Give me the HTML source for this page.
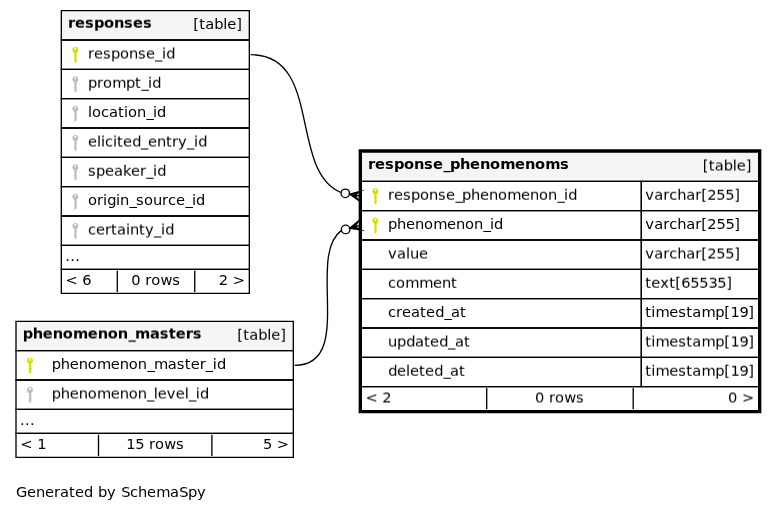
<!DOCTYPE html>
<html><head><meta charset="utf-8"><title>response_phenomenoms</title>
<style>
html,body{margin:0;padding:0;background:#fff;}
svg{display:block;}
text{font-family:"DejaVu Sans","Liberation Sans",sans-serif;font-size:14.667px;fill:#000;}
</style></head><body>
<svg width="777" height="512" viewBox="0 0 777 512">
<rect width="777" height="512" fill="#fff"/>
<polygon points="361.33,181.33 361.33,152.0 758.67,152.0 758.67,181.33 361.33,181.33" fill="#f5f5f5"/>
<polygon points="361.33,181.33 361.33,152.0 758.67,152.0 758.67,181.33 361.33,181.33" fill="none" stroke="#000" stroke-width="1.33"/>
<polygon points="361.33,210.67 361.33,181.33 641.33,181.33 641.33,210.67 361.33,210.67" fill="none" stroke="#000" stroke-width="1.33"/>
<polygon points="641.33,210.67 641.33,181.33 758.67,181.33 758.67,210.67 641.33,210.67" fill="none" stroke="#000" stroke-width="1.33"/>
<polygon points="361.33,240.0 361.33,210.67 641.33,210.67 641.33,240.0 361.33,240.0" fill="none" stroke="#000" stroke-width="1.33"/>
<polygon points="641.33,240.0 641.33,210.67 758.67,210.67 758.67,240.0 641.33,240.0" fill="none" stroke="#000" stroke-width="1.33"/>
<polygon points="361.33,269.33 361.33,240.0 641.33,240.0 641.33,269.33 361.33,269.33" fill="none" stroke="#000" stroke-width="1.33"/>
<polygon points="641.33,269.33 641.33,240.0 758.67,240.0 758.67,269.33 641.33,269.33" fill="none" stroke="#000" stroke-width="1.33"/>
<polygon points="361.33,298.67 361.33,269.33 641.33,269.33 641.33,298.67 361.33,298.67" fill="none" stroke="#000" stroke-width="1.33"/>
<polygon points="641.33,298.67 641.33,269.33 758.67,269.33 758.67,298.67 641.33,298.67" fill="none" stroke="#000" stroke-width="1.33"/>
<polygon points="361.33,328.0 361.33,298.67 641.33,298.67 641.33,328.0 361.33,328.0" fill="none" stroke="#000" stroke-width="1.33"/>
<polygon points="641.33,328.0 641.33,298.67 758.67,298.67 758.67,328.0 641.33,328.0" fill="none" stroke="#000" stroke-width="1.33"/>
<polygon points="361.33,357.33 361.33,328.0 641.33,328.0 641.33,357.33 361.33,357.33" fill="none" stroke="#000" stroke-width="1.33"/>
<polygon points="641.33,357.33 641.33,328.0 758.67,328.0 758.67,357.33 641.33,357.33" fill="none" stroke="#000" stroke-width="1.33"/>
<polygon points="361.33,386.67 361.33,357.33 641.33,357.33 641.33,386.67 361.33,386.67" fill="none" stroke="#000" stroke-width="1.33"/>
<polygon points="641.33,386.67 641.33,357.33 758.67,357.33 758.67,386.67 641.33,386.67" fill="none" stroke="#000" stroke-width="1.33"/>
<polygon points="361.33,410.67 361.33,386.67 758.67,386.67 758.67,410.67" fill="none" stroke="#000" stroke-width="1.33"/>
<line x1="486.7" y1="388.07" x2="486.7" y2="409.27" stroke="#000" stroke-width="1.33"/>
<line x1="633.2" y1="388.07" x2="633.2" y2="409.27" stroke="#000" stroke-width="1.33"/>
<polygon points="360.0,412.0 360.0,150.67 760.0,150.67 760.0,412.0 360.0,412.0" fill="none" stroke="#000" stroke-width="2.67"/>
<polygon points="16.0,350.67 16.0,321.33 293.33,321.33 293.33,350.67 16.0,350.67" fill="#f5f5f5"/>
<polygon points="16.0,350.67 16.0,321.33 293.33,321.33 293.33,350.67 16.0,350.67" fill="none" stroke="#000" stroke-width="1.33"/>
<polygon points="16.0,380.0 16.0,350.67 293.33,350.67 293.33,380.0 16.0,380.0" fill="none" stroke="#000" stroke-width="1.33"/>
<polygon points="16.0,409.33 16.0,380.0 293.33,380.0 293.33,409.33 16.0,409.33" fill="none" stroke="#000" stroke-width="1.33"/>
<polygon points="16.0,433.33 16.0,409.33 293.33,409.33 293.33,433.33 16.0,433.33" fill="none" stroke="#000" stroke-width="1.33"/>
<polygon points="16.0,457.33 16.0,433.33 293.33,433.33 293.33,457.33" fill="none" stroke="#000" stroke-width="1.33"/>
<line x1="98.5" y1="434.73" x2="98.5" y2="455.93" stroke="#000" stroke-width="1.33"/>
<line x1="211.9" y1="434.73" x2="211.9" y2="455.93" stroke="#000" stroke-width="1.33"/>
<path d="M341.2,230.65C306.28,256.23 355.28,365.33 294.67,365.33" fill="none" stroke="#000" stroke-width="1.33"/>
<polygon points="349.73,228.24 358.69,220.72 354.87,226.79 360.0,225.33 360.0,225.33 360.0,225.33 354.87,226.79 361.31,229.95 349.73,228.24 349.73,228.24" fill="#000" stroke="#000" stroke-width="1.33" stroke-miterlimit="10"/>
<circle cx="345.63" cy="229.4" r="4.27" fill="none" stroke="#000" stroke-width="1.33"/>
<polygon points="61.33,40.0 61.33,10.67 249.33,10.67 249.33,40.0 61.33,40.0" fill="#f5f5f5"/>
<polygon points="61.33,40.0 61.33,10.67 249.33,10.67 249.33,40.0 61.33,40.0" fill="none" stroke="#000" stroke-width="1.33"/>
<polygon points="61.33,69.33 61.33,40.0 249.33,40.0 249.33,69.33 61.33,69.33" fill="none" stroke="#000" stroke-width="1.33"/>
<polygon points="61.33,98.67 61.33,69.33 249.33,69.33 249.33,98.67 61.33,98.67" fill="none" stroke="#000" stroke-width="1.33"/>
<polygon points="61.33,128.0 61.33,98.67 249.33,98.67 249.33,128.0 61.33,128.0" fill="none" stroke="#000" stroke-width="1.33"/>
<polygon points="61.33,157.33 61.33,128.0 249.33,128.0 249.33,157.33 61.33,157.33" fill="none" stroke="#000" stroke-width="1.33"/>
<polygon points="61.33,186.67 61.33,157.33 249.33,157.33 249.33,186.67 61.33,186.67" fill="none" stroke="#000" stroke-width="1.33"/>
<polygon points="61.33,216.0 61.33,186.67 249.33,186.67 249.33,216.0 61.33,216.0" fill="none" stroke="#000" stroke-width="1.33"/>
<polygon points="61.33,245.33 61.33,216.0 249.33,216.0 249.33,245.33 61.33,245.33" fill="none" stroke="#000" stroke-width="1.33"/>
<polygon points="61.33,269.33 61.33,245.33 249.33,245.33 249.33,269.33 61.33,269.33" fill="none" stroke="#000" stroke-width="1.33"/>
<polygon points="61.33,293.33 61.33,269.33 249.33,269.33 249.33,293.33" fill="none" stroke="#000" stroke-width="1.33"/>
<line x1="117.3" y1="270.73" x2="117.3" y2="291.93" stroke="#000" stroke-width="1.33"/>
<line x1="194.75" y1="270.73" x2="194.75" y2="291.93" stroke="#000" stroke-width="1.33"/>
<path d="M340.85,192.51C288.73,170.75 322.64,54.67 250.67,54.67" fill="none" stroke="#000" stroke-width="1.33"/>
<polygon points="349.51,194.08 360.87,191.28 354.75,195.04 360.0,196.0 360.0,196.0 360.0,196.0 354.75,195.04 359.13,200.72 349.51,194.08 349.51,194.08" fill="#000" stroke="#000" stroke-width="1.33" stroke-miterlimit="10"/>
<circle cx="345.31" cy="193.32" r="4.27" fill="none" stroke="#000" stroke-width="1.33"/>
<g transform="translate(75.4,49.1)" fill="#d6de00"><path fill-rule="evenodd" d="M0,-2.1 C1.8,-2.1 3,-0.9 3,0.7 C3,2.1 2.1,3.1 1.1,4.1 L1.1,12.7 L0.1,13.8 L-1.0,12.9 L-1.0,4.1 C-2.1,3.1 -3,2.1 -3,0.7 C-3,-0.9 -1.8,-2.1 0,-2.1 Z M0,-1.3 A0.95,1.1 0 1 0 0.01,-1.3 Z"/><path d="M1,5.9 h0.6 v1 h-0.6z M1,8.1 h0.6 v1 h-0.6z M1,10.3 h0.6 v0.9 h-0.6z M1,11.9 h0.45 v0.8 h-0.45z"/></g>
<g transform="translate(75.4,78.43299999999999)" fill="#bdbdbd"><path fill-rule="evenodd" d="M0,-2.1 C1.8,-2.1 3,-0.9 3,0.7 C3,2.1 2.1,3.1 1.1,4.1 L1.1,12.7 L0.1,13.8 L-1.0,12.9 L-1.0,4.1 C-2.1,3.1 -3,2.1 -3,0.7 C-3,-0.9 -1.8,-2.1 0,-2.1 Z M0,-1.3 A0.95,1.1 0 1 0 0.01,-1.3 Z"/><path d="M1,5.9 h0.6 v1 h-0.6z M1,8.1 h0.6 v1 h-0.6z M1,10.3 h0.6 v0.9 h-0.6z M1,11.9 h0.45 v0.8 h-0.45z"/></g>
<g transform="translate(75.4,107.76599999999999)" fill="#bdbdbd"><path fill-rule="evenodd" d="M0,-2.1 C1.8,-2.1 3,-0.9 3,0.7 C3,2.1 2.1,3.1 1.1,4.1 L1.1,12.7 L0.1,13.8 L-1.0,12.9 L-1.0,4.1 C-2.1,3.1 -3,2.1 -3,0.7 C-3,-0.9 -1.8,-2.1 0,-2.1 Z M0,-1.3 A0.95,1.1 0 1 0 0.01,-1.3 Z"/><path d="M1,5.9 h0.6 v1 h-0.6z M1,8.1 h0.6 v1 h-0.6z M1,10.3 h0.6 v0.9 h-0.6z M1,11.9 h0.45 v0.8 h-0.45z"/></g>
<g transform="translate(75.4,137.099)" fill="#bdbdbd"><path fill-rule="evenodd" d="M0,-2.1 C1.8,-2.1 3,-0.9 3,0.7 C3,2.1 2.1,3.1 1.1,4.1 L1.1,12.7 L0.1,13.8 L-1.0,12.9 L-1.0,4.1 C-2.1,3.1 -3,2.1 -3,0.7 C-3,-0.9 -1.8,-2.1 0,-2.1 Z M0,-1.3 A0.95,1.1 0 1 0 0.01,-1.3 Z"/><path d="M1,5.9 h0.6 v1 h-0.6z M1,8.1 h0.6 v1 h-0.6z M1,10.3 h0.6 v0.9 h-0.6z M1,11.9 h0.45 v0.8 h-0.45z"/></g>
<g transform="translate(75.4,166.432)" fill="#bdbdbd"><path fill-rule="evenodd" d="M0,-2.1 C1.8,-2.1 3,-0.9 3,0.7 C3,2.1 2.1,3.1 1.1,4.1 L1.1,12.7 L0.1,13.8 L-1.0,12.9 L-1.0,4.1 C-2.1,3.1 -3,2.1 -3,0.7 C-3,-0.9 -1.8,-2.1 0,-2.1 Z M0,-1.3 A0.95,1.1 0 1 0 0.01,-1.3 Z"/><path d="M1,5.9 h0.6 v1 h-0.6z M1,8.1 h0.6 v1 h-0.6z M1,10.3 h0.6 v0.9 h-0.6z M1,11.9 h0.45 v0.8 h-0.45z"/></g>
<g transform="translate(75.4,195.765)" fill="#bdbdbd"><path fill-rule="evenodd" d="M0,-2.1 C1.8,-2.1 3,-0.9 3,0.7 C3,2.1 2.1,3.1 1.1,4.1 L1.1,12.7 L0.1,13.8 L-1.0,12.9 L-1.0,4.1 C-2.1,3.1 -3,2.1 -3,0.7 C-3,-0.9 -1.8,-2.1 0,-2.1 Z M0,-1.3 A0.95,1.1 0 1 0 0.01,-1.3 Z"/><path d="M1,5.9 h0.6 v1 h-0.6z M1,8.1 h0.6 v1 h-0.6z M1,10.3 h0.6 v0.9 h-0.6z M1,11.9 h0.45 v0.8 h-0.45z"/></g>
<g transform="translate(75.4,225.09799999999998)" fill="#bdbdbd"><path fill-rule="evenodd" d="M0,-2.1 C1.8,-2.1 3,-0.9 3,0.7 C3,2.1 2.1,3.1 1.1,4.1 L1.1,12.7 L0.1,13.8 L-1.0,12.9 L-1.0,4.1 C-2.1,3.1 -3,2.1 -3,0.7 C-3,-0.9 -1.8,-2.1 0,-2.1 Z M0,-1.3 A0.95,1.1 0 1 0 0.01,-1.3 Z"/><path d="M1,5.9 h0.6 v1 h-0.6z M1,8.1 h0.6 v1 h-0.6z M1,10.3 h0.6 v0.9 h-0.6z M1,11.9 h0.45 v0.8 h-0.45z"/></g>
<g transform="translate(30.0,359.77000000000004)" fill="#d6de00"><path fill-rule="evenodd" d="M0,-2.1 C1.8,-2.1 3,-0.9 3,0.7 C3,2.1 2.1,3.1 1.1,4.1 L1.1,12.7 L0.1,13.8 L-1.0,12.9 L-1.0,4.1 C-2.1,3.1 -3,2.1 -3,0.7 C-3,-0.9 -1.8,-2.1 0,-2.1 Z M0,-1.3 A0.95,1.1 0 1 0 0.01,-1.3 Z"/><path d="M1,5.9 h0.6 v1 h-0.6z M1,8.1 h0.6 v1 h-0.6z M1,10.3 h0.6 v0.9 h-0.6z M1,11.9 h0.45 v0.8 h-0.45z"/></g>
<g transform="translate(30.0,389.1)" fill="#bdbdbd"><path fill-rule="evenodd" d="M0,-2.1 C1.8,-2.1 3,-0.9 3,0.7 C3,2.1 2.1,3.1 1.1,4.1 L1.1,12.7 L0.1,13.8 L-1.0,12.9 L-1.0,4.1 C-2.1,3.1 -3,2.1 -3,0.7 C-3,-0.9 -1.8,-2.1 0,-2.1 Z M0,-1.3 A0.95,1.1 0 1 0 0.01,-1.3 Z"/><path d="M1,5.9 h0.6 v1 h-0.6z M1,8.1 h0.6 v1 h-0.6z M1,10.3 h0.6 v0.9 h-0.6z M1,11.9 h0.45 v0.8 h-0.45z"/></g>
<g transform="translate(375.4,190.43)" fill="#d6de00"><path fill-rule="evenodd" d="M0,-2.1 C1.8,-2.1 3,-0.9 3,0.7 C3,2.1 2.1,3.1 1.1,4.1 L1.1,12.7 L0.1,13.8 L-1.0,12.9 L-1.0,4.1 C-2.1,3.1 -3,2.1 -3,0.7 C-3,-0.9 -1.8,-2.1 0,-2.1 Z M0,-1.3 A0.95,1.1 0 1 0 0.01,-1.3 Z"/><path d="M1,5.9 h0.6 v1 h-0.6z M1,8.1 h0.6 v1 h-0.6z M1,10.3 h0.6 v0.9 h-0.6z M1,11.9 h0.45 v0.8 h-0.45z"/></g>
<g transform="translate(375.4,219.76999999999998)" fill="#d6de00"><path fill-rule="evenodd" d="M0,-2.1 C1.8,-2.1 3,-0.9 3,0.7 C3,2.1 2.1,3.1 1.1,4.1 L1.1,12.7 L0.1,13.8 L-1.0,12.9 L-1.0,4.1 C-2.1,3.1 -3,2.1 -3,0.7 C-3,-0.9 -1.8,-2.1 0,-2.1 Z M0,-1.3 A0.95,1.1 0 1 0 0.01,-1.3 Z"/><path d="M1,5.9 h0.6 v1 h-0.6z M1,8.1 h0.6 v1 h-0.6z M1,10.3 h0.6 v0.9 h-0.6z M1,11.9 h0.45 v0.8 h-0.45z"/></g>
<defs>
<filter id="s0" filterUnits="userSpaceOnUse" x="0" y="0" width="777" height="512" color-interpolation-filters="sRGB"><feOffset in="SourceGraphic" dy="1" result="o"/><feComposite in="SourceGraphic" in2="o" operator="arithmetic" k1="0" k2="1.0" k3="0.0" k4="0"/></filter>
<filter id="s1" filterUnits="userSpaceOnUse" x="0" y="0" width="777" height="512" color-interpolation-filters="sRGB"><feOffset in="SourceGraphic" dy="1" result="o"/><feComposite in="SourceGraphic" in2="o" operator="arithmetic" k1="0" k2="0.75" k3="0.25" k4="0"/></filter>
<filter id="s2" filterUnits="userSpaceOnUse" x="0" y="0" width="777" height="512" color-interpolation-filters="sRGB"><feOffset in="SourceGraphic" dy="1" result="o"/><feComposite in="SourceGraphic" in2="o" operator="arithmetic" k1="0" k2="0.5" k3="0.5" k4="0"/></filter>
<filter id="s3" filterUnits="userSpaceOnUse" x="0" y="0" width="777" height="512" color-interpolation-filters="sRGB"><feOffset in="SourceGraphic" dy="1" result="o"/><feComposite in="SourceGraphic" in2="o" operator="arithmetic" k1="0" k2="0.25" k3="0.75" k4="0"/></filter>
</defs>
<g filter="url(#s0)">
<text x="16.0 27.0 36.0 45.0 54.0 60.0 69.0 75.0 84.0 93.0 98.0 107.0 116.0 121.15 130.0 138.0 147.0 156.15 170.0 179.15 188.0 197.0" y="497">Generated by SchemaSpy</text>
<text x="368.0 375.0 385.0 394.0 404.0 414.0 424.0 433.0 443.45 450.0 460.0 470.0 480.0 490.0 500.15 515.0 525.0 535.0 545.15 560.0" y="169" font-weight="bold">response_phenomenoms</text>
<text x="388.0 397.0 406.0 415.0 424.0 433.15 447.0 456.0 465.0 474.0 483.45 490.0 494.0" y="229">phenomenon_id</text>
<text x="645.15 654.15 663.15 669.15 677.15 686.15 695.15 701.15 707.15 716.45 725.45 734.15" y="229">varchar[255]</text>
<text x="388.0 396.0 402.0 411.0 420.0 426.0 435.15 444.45 451.0 460.0" y="317">created_at</text>
<text x="645.15 651.15 655.45 669.15 678.15 686.15 692.15 701.45 715.15 724.15 730.45 739.45 748.15" y="317">timestamp[19]</text>
<text x="51.85 60.85 69.85 78.85 87.85 97.0 110.85 119.85 128.85 137.85 147.45 154.0 167.85 176.85 184.85 190.85 199.85 205.55 212.85 217.0" y="369">phenomenon_master_id</text>
<text x="20.0 25.0 30.0" y="425">...</text>
<text x="20.15 32.0 37.15" y="449">&lt; 1</text>
<text x="126.15 135.15 144.0 149.0 155.0 164.15 176.0" y="449">15 rows</text>
<text x="263.0 272.0 276.85" y="449">5 &gt;</text>
<text x="193.15 199.15 205.15 214.15 223.15 227.15 236.15" y="29">[table]</text>
<text x="88.0 92.0 101.0 109.0 118.0 124.0 128.0 137.0 146.45 153.0 157.0" y="117">location_id</text>
<text x="88.0 97.0 103.0 107.15 116.0 120.0 129.45 136.0 144.0 153.0 162.0 168.0 176.0 185.45 192.0 196.0" y="205">origin_source_id</text>
<text x="65.15 70.15 75.15" y="261">...</text>
<text x="65.45 77.0 82.15" y="285">&lt; 6</text>
<text x="131.15 140.0 145.15 151.15 160.45 172.15" y="285">0 rows</text>
<text x="218.85 228.0 232.85" y="285">2 &gt;</text>
</g>
<g filter="url(#s2)">
<text x="702.85 708.85 714.85 723.85 732.85 736.85 745.85" y="170">[table]</text>
<text x="388.0 397.0 406.0 410.0 419.0" y="258">value</text>
<text x="645.15 654.15 663.15 669.15 677.15 686.15 695.15 701.15 707.15 716.15 725.15 734.15" y="258">varchar[255]</text>
<text x="388.0 397.0 406.15 415.0 424.0 430.0 439.15 448.0 455.0 464.0" y="346">updated_at</text>
<text x="645.15 651.15 655.45 669.15 678.15 686.15 692.15 701.45 715.15 724.15 730.45 739.45 748.15" y="346">timestamp[19]</text>
<text x="365.45 377.0 382.15" y="402">&lt; 2</text>
<text x="535.0 544.0 549.0 555.0 564.15 576.0" y="402">0 rows</text>
<text x="728.0 737.0 742.0" y="402">0 &gt;</text>
<text x="22.85 32.85 42.85 52.85 62.85 73.0 87.85 97.85 107.85 117.85 128.45 135.0 150.0 159.85 168.85 175.85 185.85 192.85" y="338" font-weight="bold">phenomenon_masters</text>
<text x="51.85 60.85 69.85 78.85 87.85 97.0 110.85 119.85 128.85 137.85 147.0 153.85 157.85 166.85 175.85 184.85 189.0 195.85 200.0" y="398">phenomenon_level_id</text>
<text x="88.0 94.0 103.0 111.0 120.0 129.0 138.0 146.0 155.0 162.0 166.15" y="58">response_id</text>
<text x="88.0 97.0 101.0 105.0 113.0 117.0 123.0 132.15 141.0 148.0 157.0 166.0 172.0 178.0 187.0 194.0 198.15" y="146">elicited_entry_id</text>
<text x="88.0 96.0 105.0 111.0 117.0 126.0 130.0 139.0 145.0 154.0 161.0 165.15" y="234">certainty_id</text>
</g>
<g filter="url(#s3)">
<text x="388.0 394.0 403.0 411.0 420.0 429.0 438.0 446.0 455.45 462.0 471.0 480.0 489.0 498.0 507.15 521.0 530.0 539.0 548.0 557.45 564.0 568.15" y="199">response_phenomenon_id</text>
<text x="645.15 654.15 663.15 669.15 677.15 686.15 695.15 701.15 707.15 716.15 725.15 734.15" y="199">varchar[255]</text>
<text x="388.0 396.0 405.15 419.15 433.0 442.0 451.0" y="287">comment</text>
<text x="645.15 651.15 660.15 669.15 675.15 681.15 690.15 699.15 708.45 717.15 726.15" y="287">text[65535]</text>
<text x="388.15 397.0 406.0 410.0 419.0 425.0 434.15 443.45 450.0 459.0" y="375">deleted_at</text>
<text x="645.15 651.15 655.45 669.15 678.15 686.15 692.15 701.45 715.15 724.15 730.45 739.45 748.15" y="375">timestamp[19]</text>
<text x="237.15 243.15 249.15 258.15 267.15 271.15 280.15" y="339">[table]</text>
<text x="68.0 75.0 85.0 94.0 104.0 114.0 124.0 133.0 143.0" y="27" font-weight="bold">responses</text>
<text x="88.0 97.0 103.0 112.15 126.0 135.0 141.45 148.0 152.15" y="87">prompt_id</text>
<text x="88.0 96.0 105.0 114.0 123.0 131.0 140.0 146.15 153.0 157.15" y="175">speaker_id</text>
</g>
</svg>
</body></html>
